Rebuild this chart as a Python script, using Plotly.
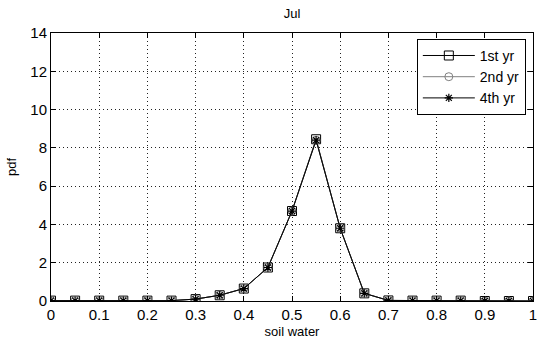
import plotly.graph_objects as go

soil_water = [0.0, 0.05, 0.1, 0.15, 0.2, 0.25, 0.3, 0.35, 0.4, 0.45, 0.5,
              0.55, 0.6, 0.65, 0.7, 0.75, 0.8, 0.85, 0.9, 0.95, 1.0]
pdf_1st = [0.02, 0.02, 0.02, 0.02, 0.02, 0.02, 0.1, 0.3, 0.65, 1.75, 4.7,
           8.45, 3.8, 0.4, 0.03, 0.02, 0.02, 0.02, 0.0, 0.0, 0.0]
pdf_2nd = [0.02, 0.02, 0.02, 0.02, 0.02, 0.02, 0.1, 0.3, 0.65, 1.75, 4.7,
           8.4, 3.8, 0.4, 0.03, 0.02, 0.02, 0.02, 0.0, 0.0, 0.0]
pdf_4th = [0.02, 0.02, 0.02, 0.02, 0.02, 0.02, 0.1, 0.3, 0.65, 1.75, 4.7,
           8.4, 3.8, 0.4, 0.03, 0.02, 0.02, 0.02, 0.0, 0.0, 0.0]
series_names = ["1st yr", "2nd yr", "4th yr"]
x_ticks = [0, 0.1, 0.2, 0.3, 0.4, 0.5, 0.6, 0.7, 0.8, 0.9, 1]
x_tick_text = ["0", "0.1", "0.2", "0.3", "0.4", "0.5", "0.6", "0.7", "0.8", "0.9", "1"]
y_ticks = [0, 2, 4, 6, 8, 10, 12, 14]

fig = go.Figure()
fig.add_trace(go.Scatter(x=soil_water, y=pdf_1st, name=series_names[0], mode="lines+markers",
                         line=dict(color="black", width=1),
                         marker=dict(symbol="square-open", size=9, color="black", line=dict(width=1))))
fig.add_trace(go.Scatter(x=soil_water, y=pdf_2nd, name=series_names[1], mode="lines+markers",
                         line=dict(color="#808080", width=1),
                         marker=dict(symbol="circle-open", size=8, color="#808080", line=dict(width=1))))
fig.add_trace(go.Scatter(x=soil_water, y=pdf_4th, name=series_names[2], mode="lines+markers",
                         line=dict(color="black", width=1),
                         marker=dict(symbol="asterisk-open", size=7, color="black", line=dict(width=1.2))))

axis_common = dict(showline=True, linecolor="black", linewidth=1, mirror="allticks",
                   ticks="inside", ticklen=5, tickcolor="black",
                   showgrid=True, gridcolor="#222222", griddash="1px,3px", gridwidth=1,
                   zeroline=False, ticklabeloverflow="allow",
                   tickfont=dict(size=15, color="black", family="Liberation Sans"))

fig.update_layout(
    width=540, height=342,
    margin=dict(l=51, r=3, t=33, b=41),
    paper_bgcolor="white", plot_bgcolor="white",
    title=dict(text="Jul", x=0.5, xref="paper", xanchor="center", y=0.975, yanchor="top",
               font=dict(size=13, color="black", family="Liberation Sans")),
    font=dict(family="Liberation Sans", color="black"),
    xaxis=dict(range=[0, 1], tickvals=x_ticks, ticktext=x_tick_text,
               title=dict(text="soil water", font=dict(size=13), standoff=4), **axis_common),
    yaxis=dict(range=[0, 14], tickvals=y_ticks,
               title=dict(text="pdf", font=dict(size=13), standoff=10), **axis_common),
    legend=dict(x=0.759, y=0.978, xanchor="left", yanchor="top",
                bgcolor="white", bordercolor="black", borderwidth=1,
                font=dict(size=14, color="black"), itemwidth=52,
                tracegroupgap=0),
    showlegend=True,
)

fig.write_html("out.html")
